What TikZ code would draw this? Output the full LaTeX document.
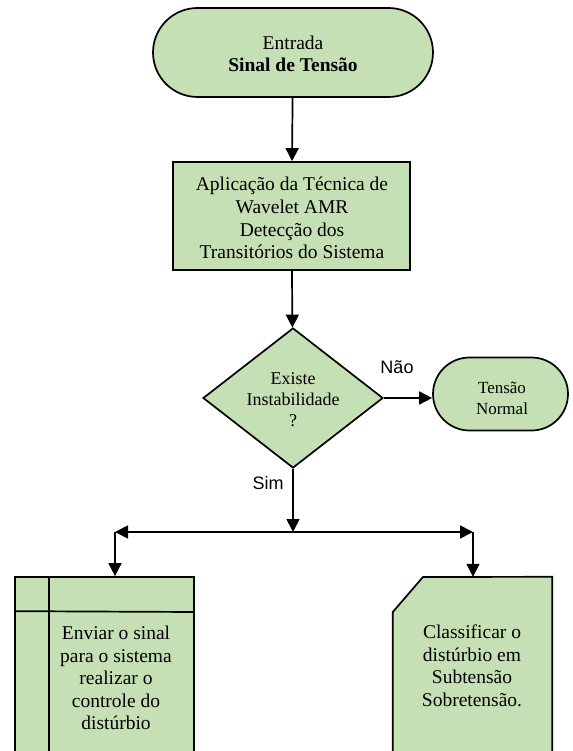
\documentclass[tikz,border=0pt]{standalone}
\usepackage{fontspec}
\setmainfont{Liberation Serif}
\newfontfamily\arialf{Liberation Sans}
\usetikzlibrary{arrows.meta,shapes.misc,shapes.geometric}
\definecolor{boxgreen}{HTML}{C5E0B4}
\tikzset{
  outline/.style={draw=black,line width=1.7pt,fill=boxgreen},
  arr/.style={line width=1.7pt,-{Triangle[length=13pt,width=13pt]}},
  arrboth/.style={line width=1.7pt,{Triangle[length=13pt,width=13pt]}-{Triangle[length=13pt,width=13pt]}},
  txt/.style={align=center,inner sep=0pt},
  terminal/.style={outline,rounded rectangle,inner sep=0pt},
  procbox/.style={outline,rectangle,inner sep=0pt},
  decision/.style={outline,diamond,inner sep=0pt,aspect=1.2857},
  lbl/.style={font=\arialf\fontsize{18}{20}\selectfont,inner sep=0pt}
}
\begin{document}
\begin{tikzpicture}[x=1pt,y=-1pt]
\useasboundingbox (0,0) rectangle (572,751);
\clip (0,0) rectangle (572,751);
% top terminal
\node[terminal,minimum width=280pt,minimum height=89pt] (start) at (293,52.5) {};
\node[txt,font=\fontsize{19.5}{22}\selectfont] (starttxt) at (293,54) {Entrada\\\textbf{Sinal de Tensão}};
% process box
\node[procbox,minimum width=237pt,minimum height=108pt] (proc) at (291.5,216) {};
\node[txt,font=\fontsize{19.5}{22.8}\selectfont] (proctxt) at (292,218) {Aplicação da Técnica de\\Wavelet AMR\\Detecção dos\\Transitórios do Sistema};
% decision
\node[decision,minimum width=180pt,minimum height=140pt] (dec) at (293,398) {};
\node[txt,font=\fontsize{18}{21}\selectfont] (dectxt) at (293,400) {Existe\\Instabilidade\\?};
% tensao normal
\node[terminal,minimum width=135pt,minimum height=73pt] (normal) at (500.5,394) {};
\node[txt,font=\fontsize{17}{21}\selectfont] (normaltxt) at (502,398) {Tensão\\Normal};
% labels
\node[lbl] (nao) at (397,367) {Não};
\node[lbl] (sim) at (268,483) {Sim};
% bottom left box (extends past bottom edge)
\node[procbox,minimum width=179pt,minimum height=190pt] (ctrl) at (104.5,672) {};
\draw[line width=1.7pt] (ctrl.north west) ++(35,0) -- ++(0,190);
\draw[line width=1.7pt] (ctrl.north west) ++(0,35) -- (ctrl.north east |- 0,612);
\node[txt,font=\fontsize{19.5}{22.5}\selectfont] (ctrltxt) at (116,678) {Enviar o sinal\\para o sistema\\realizar o\\controle do\\distúrbio};
% bottom right box (chamfered corner)
\node[inner sep=0pt,minimum width=159pt,minimum height=190pt] (cls) at (472.5,672) {};
\draw[outline] (cls.north west |- 0,612) -- (423,577) -- (cls.north east) -- (cls.south east) -- (cls.south west) -- cycle;
\node[txt,font=\fontsize{19.5}{22.5}\selectfont] (clstxt) at (472,666) {Classificar o\\distúrbio em\\Subtensão\\Sobretensão.};
% connectors
\coordinate (split) at (293,532);
\coordinate (hl) at (115,532);
\coordinate (hr) at (473,532);
\draw[arr] (start) -- (proc);
\draw[arr] (proc) -- (dec);
\draw[arr] (dec.east) -- (dec.east -| normal.west);
\draw[arr] (dec.south) -- (split);
\draw[arrboth] (hl) -- (hr);
\draw[arr] (hl) -- (hl |- ctrl.north);
\draw[arr] (hr) -- (hr |- cls.north);
\end{tikzpicture}
\end{document}
